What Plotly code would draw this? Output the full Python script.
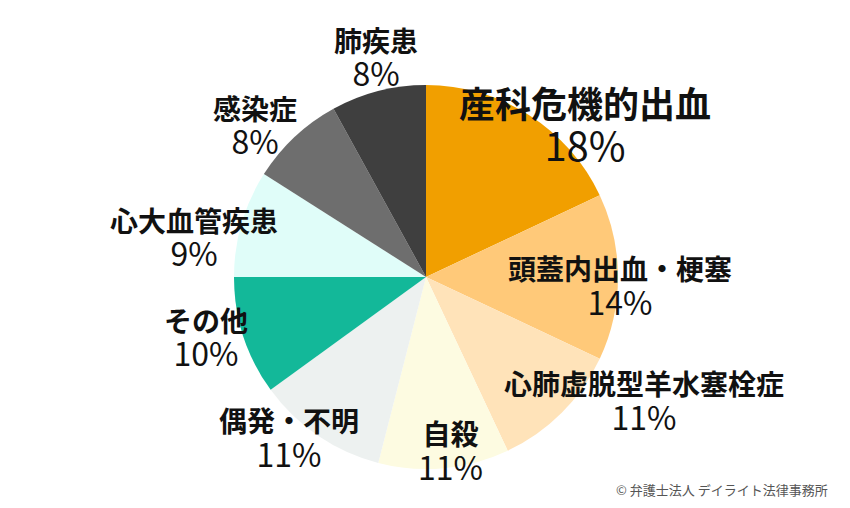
import plotly.graph_objects as go

# data
labels = ["産科危機的出血", "頭蓋内出血・梗塞", "心肺虚脱型羊水塞栓症", "自殺", "偶発・不明",
          "その他", "心大血管疾患", "感染症", "肺疾患"]
values = [18, 14, 11, 11, 11, 10, 9, 8, 8]
colors = ["#F19F00", "#FFC979", "#FFE3B9", "#FDFBE1", "#EDF1F0",
          "#13B899", "#E0FDF9", "#6E6E6E", "#3F3F3F"]

# label placement: pixel center of each two-line label (name / percent)
label_pos = [(585, 124), (620, 286), (644, 401), (450, 451), (289, 438),
             (206, 337), (194, 237), (255, 125), (376, 57)]
base_size = [33, 27, 27, 27, 27, 26, 26, 26, 26]
name_size = [36, 28, 28, 28, 28, 28, 28, 28, 28]
pct_size = [40, 32, 32, 32, 32, 32, 32, 32, 32]

W, H = 850, 508
cx, cy, r = 426, 277, 192

fig = go.Figure(go.Pie(
    labels=labels, values=values, sort=False, direction="clockwise", rotation=0,
    marker=dict(colors=colors, line=dict(width=0)),
    textinfo="none", hoverinfo="label+percent", showlegend=False,
    domain=dict(x=[(cx - r) / W, (cx + r) / W], y=[1 - (cy + r) / H, 1 - (cy - r) / H]),
))

total = sum(values)
ann = []
for i, lab in enumerate(labels):
    x, y = label_pos[i]
    pct = round(values[i] / total * 100)
    txt = (f"<span style='font-size:{name_size[i]}px;font-weight:bold'>{lab}</span><br>"
           f"<span style='font-size:{pct_size[i]}px'>{pct}%</span>")
    ann.append(dict(x=x / W, y=1 - y / H, xref="paper", yref="paper", text=txt,
                    showarrow=False, xanchor="center", yanchor="middle", align="center",
                    font=dict(family="Noto Sans CJK JP", size=base_size[i], color="#111111")))

ann.append(dict(x=830 / W, y=1 - 489 / H, xref="paper", yref="paper",
                text="© 弁護士法人 デイライト法律事務所", showarrow=False,
                xanchor="right", yanchor="middle",
                font=dict(family="Noto Sans CJK JP", size=13, color="#555555")))

fig.update_layout(
    width=W, height=H, margin=dict(l=0, r=0, t=0, b=0),
    paper_bgcolor="white", plot_bgcolor="white",
    annotations=ann,
)

fig.write_html("out.html", config={"displayModeBar": False},
               post_script="document.body.style.margin='0';")
